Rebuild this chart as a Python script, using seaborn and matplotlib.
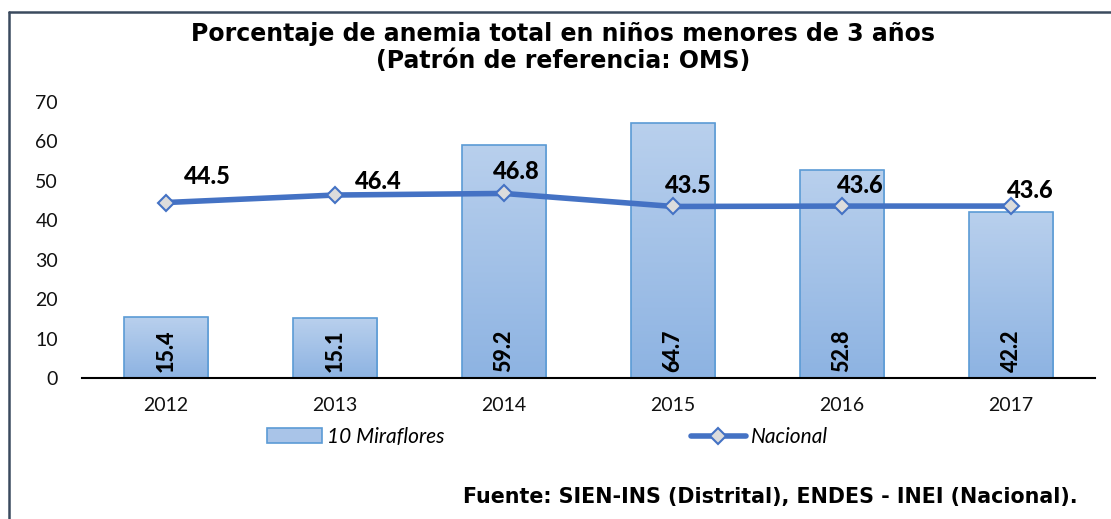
import matplotlib
matplotlib.use("Agg")
import matplotlib.pyplot as plt
import matplotlib.lines as mlines
import matplotlib.patches as mpatches
from matplotlib.colors import LinearSegmentedColormap
import numpy as np
import pandas as pd
import seaborn as sns

years = ["2012", "2013", "2014", "2015", "2016", "2017"]
miraflores = [15.4, 15.1, 59.2, 64.7, 52.8, 42.2]
nacional = [44.5, 46.4, 46.8, 43.5, 43.6, 43.6]
yticks = [0, 10, 20, 30, 40, 50, 60, 70]

title = "Porcentaje de anemia total en niños menores de 3 años\n(Patrón de referencia: OMS)"
source = "Fuente: SIEN-INS (Distrital), ENDES - INEI (Nacional)."
bar_label = "10 Miraflores"
line_label = "Nacional"

# label offsets (points) for the line data labels (centre of text)
line_offsets = [(29.5, 19), (31, 9.5), (9, 16), (11, 15), (13, 15), (14, 11)]

sns.set_theme(style="white")
plt.rcParams["font.family"] = ["Lato", "DejaVu Sans"]

df = pd.DataFrame({"year": years, "miraflores": miraflores, "nacional": nacional})

fig = plt.figure(figsize=(11.11, 5.19), dpi=100)
ax = fig.add_axes([0.0734, 0.2717, 0.9126, 0.5318])

sns.barplot(data=df, x="year", y="miraflores", ax=ax, width=0.5,
            color="#a9c4e8", edgecolor="#5b9bd5", linewidth=1.2, zorder=2,
            saturation=1)

grad = np.linspace(0, 1, 256).reshape(-1, 1)
cmap = LinearSegmentedColormap.from_list("g", ["#b9d0ed", "#8db3e2"])
for p in list(ax.patches):
    x0, y0 = p.get_x(), p.get_y()
    w, h = p.get_width(), p.get_height()
    im = ax.imshow(grad, cmap=cmap, aspect="auto", extent=[x0, x0 + w, y0, y0 + h],
                   origin="upper", zorder=2.1)
    im.set_clip_path(p)
    p.set_facecolor("none")
    p.set_zorder(2.2)

sns.lineplot(data=df, x="year", y="nacional", ax=ax, color="#4472c4", linewidth=4,
             marker="D", markersize=8, markerfacecolor="#dcdcdc",
             markeredgecolor="#4472c4", markeredgewidth=1.5, zorder=3, sort=False)

ax.set_ylim(0, 70)
ax.set_xlim(-0.5, 5.5)
ax.set_yticks(yticks)
ax.set_xlabel("")
ax.set_ylabel("")
for s in ["top", "right", "left"]:
    ax.spines[s].set_visible(False)
ax.spines["bottom"].set_color("black")
ax.spines["bottom"].set_linewidth(1.5)
ax.spines["bottom"].set_zorder(4)
ax.tick_params(axis="y", length=0, pad=17, labelsize=14, labelcolor="#111111")
ax.tick_params(axis="x", length=0, pad=14, labelsize=14, labelcolor="#111111")
ax.grid(False)

for i, v in enumerate(miraflores):
    ax.annotate(f"{v}", xy=(i, 0), xytext=(0, 4), textcoords="offset points",
                rotation=90, ha="center", va="bottom", fontsize=15.5,
                fontweight="black", color="black", zorder=5)

for i, v in enumerate(nacional):
    dx, dy = line_offsets[i]
    ax.annotate(f"{v}", xy=(i, v), xytext=(dx, dy), textcoords="offset points",
                ha="center", va="center", fontsize=17, fontweight="black",
                color="black", zorder=5)

fig.text(0.507, 0.9085, title, ha="center", va="center", fontsize=17,
         fontweight="bold", family="DejaVu Sans", linespacing=1.2, color="black")

fig.text(0.970, 0.0424, source, ha="right", va="center", fontsize=14.9,
         fontweight="bold", family="DejaVu Sans", color="black")

bar_h = mpatches.Patch(facecolor="#a9c4e8", edgecolor="#5b9bd5", linewidth=1.2)
line_h = mlines.Line2D([], [], color="#4472c4", linewidth=4, marker="D", markersize=8,
                       markerfacecolor="#dcdcdc", markeredgecolor="#4472c4",
                       markeredgewidth=1.5)
fig.legend([bar_h, line_h], [bar_label, line_label], loc="center",
           bbox_to_anchor=(0.4928, 0.158), ncol=2, frameon=False,
           prop={"style": "italic", "size": 15, "family": "Lato"},
           handlelength=2.65, handleheight=0.75, columnspacing=11.8, handletextpad=0.25,
           labelcolor="black")

fig.add_artist(mlines.Line2D([0.0085, 0.0085], [0, 0.977], transform=fig.transFigure,
                             color="#3b4a5e", linewidth=1.8))
fig.add_artist(mlines.Line2D([0.0085, 1.0], [0.977, 0.977], transform=fig.transFigure,
                             color="#3b4a5e", linewidth=1.8))

fig.savefig("out.png", dpi=100)
